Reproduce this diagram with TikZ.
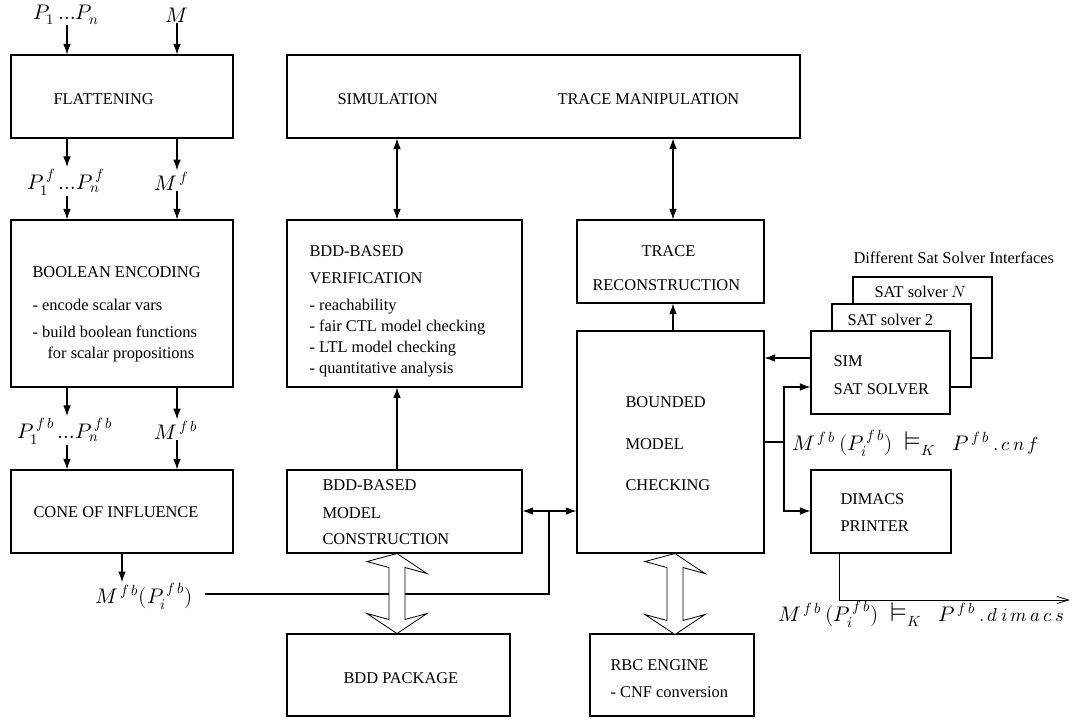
\documentclass[tikz,border=0pt]{standalone}
\usepackage{fontspec}
\usepackage{unicode-math}
\setmainfont{Liberation Serif}
\usetikzlibrary{arrows.meta,fit}
% satisfaction sign and small file suffix used in the output labels
\newcommand{\satK}{\mathrel{\scalebox{1.3}{$\vDash$}}_K}
\newcommand{\sfx}[1]{\hbox{\fontsize{16}{18}\selectfont$#1$}}
\begin{document}
\begin{tikzpicture}[x=0.03cm,y=-0.03cm,line width=0.9pt,
  box/.style={draw,inner sep=0pt,fit={#1}},
  stack/.style={draw,fill=white,inner sep=0pt,fit={#1}},
  lbl/.style={anchor=base west,inner sep=0pt,font=\fontsize{14}{16}\selectfont},
  mlbl/.style={inner sep=0pt,font=\fontsize{18}{20}\selectfont},
  arr/.style={-{Latex[length=9pt,width=6.5pt]}},
  darr/.style={{Latex[length=9pt,width=6.5pt]}-{Latex[length=9pt,width=6.5pt]}},
  outarr/.style={-{Straight Barb[length=10pt,width=6pt]},line width=0.7pt},
  hollow/.style={draw,fill=white,line width=0.7pt}]
\useasboundingbox (0,0) rectangle (1081,719);

% main blocks
\node[box={(11,55)(233,138)}] (flat) {};
\node[box={(11,220)(233,387)}] (bool) {};
\node[box={(11,470)(233,553)}] (coi) {};
\node[box={(287,55)(800,138)}] (simtr) {};
\node[box={(287,220)(522,387)}] (bddver) {};
\node[box={(287,470)(522,553)}] (bddmc) {};
\node[box={(287,634)(510,716)}] (bddpkg) {};
\node[box={(577,220)(764,303)}] (trace) {};
\node[box={(577,331)(764,553)}] (bmc) {};
\node[box={(811,470)(951,553)}] (dimacs) {};
\node[box={(590,634)(754,716)}] (rbc) {};

% stacked SAT solver interfaces
\node[stack={(853,277)(992,358)}] (satn) {};
\node[stack={(832,304)(971,387)}] (sat2) {};
\node[stack={(811,331)(950,414)}] (simsat) {};

% block texts
\node[lbl] (tflat) at (53,104) {FLATTENING};
\node[lbl] (tbool) at (32,277) {BOOLEAN ENCODING};
\node[lbl] (tbool1) at (32,310) {- encode scalar vars};
\node[lbl] (tbool2) at (32,337) {- build boolean functions};
\node[lbl] (tbool3) at (47,358) {for scalar propositions};
\node[lbl] (tcoi) at (33,517) {CONE OF INFLUENCE};
\node[lbl] (tsim) at (337,104) {SIMULATION};
\node[lbl] (ttm) at (557,104) {TRACE MANIPULATION};
\node[lbl] (tver1) at (309,256) {BDD-BASED};
\node[lbl] (tver2) at (309,283) {VERIFICATION};
\node[lbl] (tver3) at (309,310) {- reachability};
\node[lbl] (tver4) at (309,331) {- fair CTL model checking};
\node[lbl] (tver5) at (309,352) {- LTL model checking};
\node[lbl] (tver6) at (309,373) {- quantitative analysis};
\node[lbl] (tmc1) at (322,490) {BDD-BASED};
\node[lbl] (tmc2) at (322,518) {MODEL};
\node[lbl] (tmc3) at (322,544) {CONSTRUCTION};
\node[lbl] (tpkg) at (343,683) {BDD PACKAGE};
\node[lbl] (ttr1) at (641,256) {TRACE};
\node[lbl] (ttr2) at (592,290) {RECONSTRUCTION};
\node[lbl] (tbmc1) at (625,407) {BOUNDED};
\node[lbl] (tbmc2) at (625,449) {MODEL};
\node[lbl] (tbmc3) at (625,490) {CHECKING};
\node[lbl] (tdiff) at (853,263) {Different Sat Solver Interfaces};
\node[lbl] (tsatn) at (874,297) {SAT solver $N$};
\node[lbl] (tsat2) at (847,325) {SAT solver 2};
\node[lbl] (tsim1) at (833,366) {SIM};
\node[lbl] (tsim2) at (833,394) {SAT SOLVER};
\node[lbl] (tdim1) at (840,504) {DIMACS};
\node[lbl] (tdim2) at (840,531) {PRINTER};
\node[lbl] (trbc1) at (610,670) {RBC ENGINE};
\node[lbl] (trbc2) at (610,697) {- CNF conversion};

% signal labels
\node[mlbl] (pin) at (66,15) {$P_1\,{\ldots}P_n$};
\node[mlbl] (min) at (177,15) {$M$};
\node[mlbl] (pf) at (66,182) {$P_1^{\,f}\,{\ldots}P_n^{\,f}$};
\node[mlbl] (mf) at (172,181) {$M^{\,f}$};
\node[mlbl] (pfb) at (65,431) {$P_1^{\,f\,b}\,{\ldots}P_n^{\,f\,b}$};
\node[mlbl] (mfb0) at (176,430) {$M^{\,f\,b}$};
\node[mlbl] (mfb) at (144,596) {$M^{\,f\,b}(P_i^{\,f\,b})$};
\node[mlbl,anchor=west] (lcnf) at (792,443)
  {$M^{\,f\,b}\,(P_i^{\,f\,b})\;\satK\;\;P^{\,f\,b}\,\sfx{.\,c\,n\,f}$};
\node[mlbl,anchor=west] (ldim) at (778,614)
  {$M^{\,f\,b}\,(P_i^{\,f\,b})\;\satK\;\;P^{\,f\,b}\,\sfx{.\,d\,i\,m\,a\,c\,s}$};

% column positions of vertical connectors
\coordinate (xl) at (67,0);
\coordinate (xr) at (177,0);
\coordinate (xa) at (397,0);
\coordinate (xb) at (673,0);

% left column
\draw[arr] (pin.south -| xl) -- (flat.north -| xl);
\draw[arr] (min.south -| xr) -- (flat.north -| xr);
\draw[arr] (flat.south -| xl) -- ([yshift=1pt]pf.north -| xl);
\draw[arr] (flat.south -| xr) -- ([yshift=1pt]mf.north -| xr);
\draw[arr] (pf.south -| xl) -- (bool.north -| xl);
\draw[arr] (mf.south -| xr) -- (bool.north -| xr);
\draw[arr] (bool.south -| xl) -- ([yshift=1pt]pfb.north -| xl);
\draw[arr] (bool.south -| xr) -- ([yshift=1pt]mfb0.north -| xr);
\draw[arr] (pfb.south -| xl) -- (coi.north -| xl);
\draw[arr] (mfb0.south -| xr) -- (coi.north -| xr);
\coordinate (xc) at (122,0);
\draw[arr] (coi.south -| xc) -- (mfb.north -| xc);

% reduced model to both model builders
\coordinate (c1) at (549,594);
\coordinate (c2) at (549,511);
\draw ([xshift=10pt]mfb.east |- c1) -- (c1) -- (c2);
\draw[arr] (c2) -- (bddmc.east |- c2);
\draw[arr] (c2) -- (bmc.west |- c2);

% middle columns
\draw[darr] (simtr.south -| xa) -- (bddver.north -| xa);
\draw[darr] (simtr.south -| xb) -- (trace.north -| xb);
\draw[arr] (bddmc.north -| xa) -- (bddver.south -| xa);
\draw[arr] (bmc.north -| xb) -- (trace.south -| xb);

% SAT solver side
\coordinate (ys) at (0,358);
\draw[arr] (simsat.west |- ys) -- (bmc.east |- ys);
\coordinate (j1) at (784,442);
\coordinate (j2) at (784,387);
\coordinate (j3) at (784,511);
\draw (bmc.east |- j1) -- (j1);
\draw[arr] (j1) -- (j2) -- (simsat.west |- j2);
\draw[arr] (j1) -- (j3) -- (dimacs.west |- j3);
\coordinate (d1) at (839,600);
\coordinate (dend) at (1070,600);
\draw[outarr] (dimacs.south -| d1) -- (d1) -- (dend);

% hollow two-way arrows to the engines
\draw[hollow] (bddmc.south -| xa) -- ++(30,20) -- ++(-22,-6) -- ++(0,52) -- ++(22,-6)
  -- ++(-30,20) -- ++(-30,-20) -- ++(22,6) -- ++(0,-52) -- ++(-22,-6) -- cycle;
\coordinate (xe) at (675,0);
\draw[hollow] (bmc.south -| xe) -- ++(30,20) -- ++(-22,-6) -- ++(0,53) -- ++(22,-6)
  -- ++(-30,20) -- ++(-30,-20) -- ++(22,6) -- ++(0,-53) -- ++(-22,-6) -- cycle;
\end{tikzpicture}
\end{document}
